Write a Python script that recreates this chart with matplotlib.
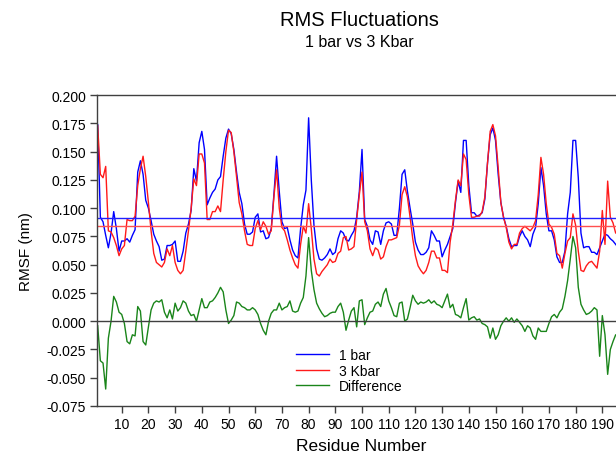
import matplotlib
matplotlib.use("Agg")
import matplotlib.pyplot as plt
import numpy as np

plt.rcParams['font.family'] = ['Liberation Sans', 'DejaVu Sans']

rmsf_1bar = [
    0.174, 0.092, 0.088, 0.076, 0.065, 0.078, 0.097, 0.082, 0.062, 0.071,
    0.071, 0.073, 0.070, 0.076, 0.081, 0.132, 0.142, 0.130, 0.107, 0.100,
    0.089, 0.077, 0.071, 0.066, 0.054, 0.055, 0.067, 0.067, 0.068, 0.071,
    0.053, 0.053, 0.062, 0.078, 0.086, 0.098, 0.135, 0.124, 0.158, 0.168,
    0.152, 0.103, 0.109, 0.114, 0.117, 0.125, 0.128, 0.146, 0.162, 0.170,
    0.166, 0.152, 0.132, 0.114, 0.104, 0.086, 0.077, 0.077, 0.079, 0.092,
    0.095, 0.079, 0.080, 0.073, 0.074, 0.082, 0.112, 0.146, 0.115, 0.088,
    0.082, 0.083, 0.072, 0.063, 0.058, 0.056, 0.082, 0.103, 0.116, 0.180,
    0.125, 0.085, 0.064, 0.055, 0.054, 0.056, 0.059, 0.064, 0.059, 0.061,
    0.073, 0.080, 0.078, 0.072, 0.071, 0.076, 0.080, 0.092, 0.115, 0.152,
    0.090, 0.084, 0.072, 0.068, 0.080, 0.079, 0.068, 0.080, 0.087, 0.088,
    0.086, 0.076, 0.076, 0.100, 0.130, 0.134, 0.115, 0.100, 0.086, 0.070,
    0.063, 0.059, 0.059, 0.061, 0.065, 0.080, 0.076, 0.071, 0.071, 0.057,
    0.063, 0.068, 0.075, 0.082, 0.105, 0.124, 0.114, 0.160, 0.160, 0.120,
    0.096, 0.096, 0.093, 0.094, 0.096, 0.108, 0.140, 0.165, 0.171, 0.160,
    0.130, 0.105, 0.092, 0.084, 0.073, 0.066, 0.067, 0.067, 0.075, 0.080,
    0.075, 0.072, 0.066, 0.077, 0.083, 0.104, 0.136, 0.120, 0.095, 0.080,
    0.080, 0.072, 0.057, 0.052, 0.052, 0.062, 0.095, 0.114, 0.160, 0.160,
    0.127, 0.078, 0.065, 0.066, 0.066, 0.061, 0.061, 0.059, 0.065, 0.071,
    0.077, 0.076, 0.073, 0.071, 0.068, 0.065,
]

rmsf_3kbar = [
    0.173, 0.130, 0.127, 0.137, 0.080, 0.079, 0.074, 0.067, 0.058, 0.064,
    0.067, 0.090, 0.089, 0.089, 0.093, 0.120, 0.135, 0.146, 0.128, 0.105,
    0.080, 0.060, 0.052, 0.050, 0.048, 0.052, 0.064, 0.058, 0.067, 0.052,
    0.045, 0.042, 0.045, 0.062, 0.080, 0.100, 0.126, 0.120, 0.148, 0.148,
    0.140, 0.090, 0.090, 0.097, 0.097, 0.102, 0.097, 0.125, 0.150, 0.169,
    0.167, 0.150, 0.128, 0.105, 0.095, 0.080, 0.068, 0.067, 0.067, 0.082,
    0.089, 0.081, 0.088, 0.084, 0.077, 0.080, 0.110, 0.134, 0.100, 0.083,
    0.080, 0.072, 0.063, 0.056, 0.050, 0.047, 0.068, 0.084, 0.078, 0.104,
    0.082, 0.055, 0.042, 0.040, 0.044, 0.047, 0.050, 0.055, 0.052, 0.053,
    0.060, 0.062, 0.074, 0.075, 0.063, 0.064, 0.066, 0.090, 0.112, 0.132,
    0.088, 0.080, 0.064, 0.058, 0.065, 0.063, 0.055, 0.057, 0.066, 0.072,
    0.072, 0.073, 0.074, 0.085, 0.112, 0.119, 0.110, 0.092, 0.073, 0.058,
    0.049, 0.045, 0.042, 0.045, 0.052, 0.062, 0.062, 0.056, 0.056, 0.045,
    0.045, 0.043, 0.070, 0.086, 0.107, 0.125, 0.120, 0.148, 0.143, 0.112,
    0.092, 0.092, 0.093, 0.093, 0.097, 0.110, 0.140, 0.168, 0.174, 0.164,
    0.136, 0.105, 0.092, 0.083, 0.070, 0.064, 0.068, 0.068, 0.078, 0.082,
    0.084, 0.082, 0.080, 0.083, 0.089, 0.112, 0.145, 0.130, 0.104, 0.086,
    0.083, 0.077, 0.060, 0.058, 0.047, 0.060, 0.071, 0.074, 0.095, 0.085,
    0.062, 0.045, 0.044, 0.049, 0.052, 0.053, 0.050, 0.047, 0.062, 0.098,
    0.068, 0.124, 0.092, 0.087, 0.078, 0.078,
]

difference = [
    -0.004, -0.035, -0.037, -0.060, -0.015, 0.000, 0.022, 0.017, 0.008, 0.006,
    -0.002, -0.018, -0.020, -0.012, -0.013, 0.013, 0.009, -0.018, -0.021, -0.005,
    0.010, 0.016, 0.018, 0.017, 0.019, 0.008, 0.003, 0.010, 0.002, 0.016,
    0.009, 0.012, 0.018, 0.016, 0.009, 0.005, 0.006, 0.000, 0.010, 0.020,
    0.012, 0.012, 0.017, 0.018, 0.021, 0.025, 0.030, 0.026, 0.010, -0.002,
    0.001, 0.005, 0.017, 0.016, 0.013, 0.012, 0.010, 0.010, 0.012, 0.010,
    0.006, -0.002, -0.008, -0.012, 0.000, 0.007, 0.010, 0.010, 0.016, 0.010,
    0.012, 0.013, 0.018, 0.009, 0.008, 0.009, 0.016, 0.021, 0.040, 0.074,
    0.045, 0.028, 0.016, 0.011, 0.007, 0.004, 0.005, 0.007, 0.008, 0.008,
    0.013, 0.016, 0.008, -0.008, 0.001, 0.009, 0.012, -0.005, 0.018, 0.019,
    -0.003, 0.003, 0.008, 0.009, 0.015, 0.017, 0.013, 0.024, 0.029, 0.018,
    0.012, 0.005, 0.004, 0.016, 0.017, 0.000, 0.002, 0.012, 0.023, 0.018,
    0.015, 0.017, 0.016, 0.017, 0.019, 0.016, 0.018, 0.015, 0.014, 0.012,
    0.018, 0.024, 0.012, 0.015, 0.006, 0.005, 0.003, 0.012, 0.020, 0.001,
    0.003, 0.004, 0.001, 0.002, -0.002, -0.003, -0.005, -0.015, -0.006, -0.016,
    -0.012, -0.004, 0.000, 0.003, 0.000, 0.003, -0.001, 0.002, -0.001, -0.004,
    -0.009, -0.004, -0.006, -0.013, -0.016, -0.006, -0.009, -0.009, -0.009, -0.002,
    0.004, 0.006, 0.003, 0.008, 0.011, 0.022, 0.036, 0.055, 0.075, 0.065,
    0.030, 0.015, 0.010, 0.006, 0.007, 0.009, 0.012, 0.010, -0.031, 0.005,
    -0.012, -0.047, -0.025, -0.018, -0.012, -0.013,
]

residues = np.arange(1, len(rmsf_1bar) + 1)
mean_1bar = 0.091
mean_3kbar = 0.084

x_ticks = list(range(10, 191, 10))
y_ticks = [-0.075, -0.050, -0.025, 0.000, 0.025, 0.050, 0.075, 0.100,
           0.125, 0.150, 0.175, 0.200]

fig = plt.figure(figsize=(6.16, 4.56), dpi=100)
ax = fig.add_axes([0.1575, 0.1075, 0.8593, 0.6815])

ax.plot(residues, rmsf_1bar, color='#0000ff', lw=1.0, label='1 bar')
ax.plot(residues, rmsf_3kbar, color='#ff1a1a', lw=1.0, label='3 Kbar')
ax.plot(residues, difference, color='#1a851a', lw=1.0, label='Difference')
ax.axhline(mean_1bar, color='#2020ff', lw=1.0)
ax.axhline(mean_3kbar, color='#ff5050', lw=1.0)
ax.axhline(0.0, color='#404040', lw=1.0)

ax.set_xlim(0.75, 199)
ax.set_ylim(-0.075, 0.200)
ax.set_xticks(x_ticks)
ax.set_yticks(y_ticks)
ax.set_yticklabels([f"{v:.3f}" for v in y_ticks])
ax.tick_params(axis='both', direction='out', length=5, width=1,
               color='#404040', labelsize=10, pad=3)
for s in ['left', 'bottom', 'top']:
    ax.spines[s].set_color('#404040')
    ax.spines[s].set_linewidth(1.0)
ax.spines['right'].set_visible(False)

ax.set_xlabel('Residue Number', fontsize=12.5, labelpad=5)
ax.set_ylabel('RMSF (nm)', fontsize=11, labelpad=10)

fig.text(0.584, 0.954, 'RMS Fluctuations', ha='center', va='center', fontsize=14.5)
fig.text(0.584, 0.907, '1 bar vs 3 Kbar', ha='center', va='center', fontsize=11.5)

leg = ax.legend(loc='upper left', bbox_to_anchor=(0.363, 0.209), frameon=False,
                fontsize=10, handlelength=2.4, handletextpad=0.7,
                labelspacing=0.12, borderpad=0)

fig.savefig('out.png', dpi=100)
